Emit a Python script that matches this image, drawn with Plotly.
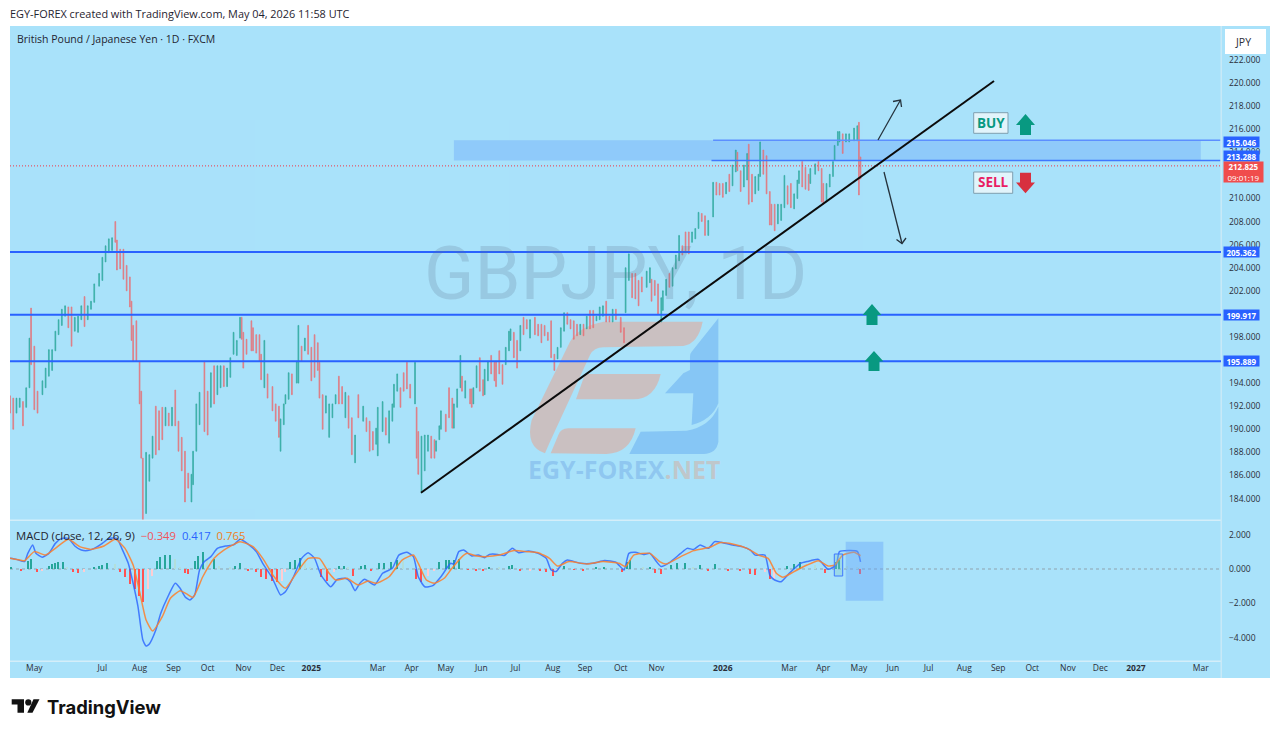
import plotly.graph_objects as go

# ---------- data ----------
bar_session = [0,2,4,6,8,10,12,13,15,17,20,22,24,26,28,30,32,34,36,38,40,42,44,46,48,50,52,55,57,59,61,63,65,66,68,70,72,74,75,76,78,80,81,82,84,86,88,90,92,94,96,98,100,102,104,106,108,110,112,113,115,117,120,122,124,126,128,130,132,134,136,138,140,142,143,144,146,149,150,152,154,155,157,159,162,164,166,167,169,170,172,174,177,178,180,182,184,186,188,190,191,193,195,197,199,201,203,205,207,209,211,213,215,218,220,222,224,226,227,230,232,234,236,237,239,241,243,245,247,250,251,252,254,256,258,
260,262,263,265,266,269,271,273,274,276,278,279,281,284,285,286,288,290,292,293,295,297,299,300,302,304,306,308,309,311,313,315,317,319,321,324,326,328,330,332,334,336,338,340,342,344,346,348,350,352,354,356,358,360,362,364,366,368,370,372,374,377,379,380,382,384,386,388,390,393,395,396,398,400,402,403,405,407,409,411,413,415,417,419,421,423,425,427,429,431,
434,436,438,440,442,444,446,448,449,451,453,455,456,458,460,462,463,465,467,469,470,472,474,476,478,480,482,484,486,487,489,491,493,494,497,499,501,502,504,506,508,509,511,512,514,516,518,521,523,524,525]
bar_high = [192.9,192.7,192.7,192.7,192.4,193.6,197.9,200.5,197.2,193.3,194.2,195.3,196.9,196.9,198.5,199.5,200.4,200.7,200.6,200.6,199.7,199.8,200.7,201.5,200.7,201.1,202.6,203.5,204.9,205.9,206.5,206.6,208.0,206.4,205.6,205.6,204.2,203.2,201.1,199.0,199.4,195.9,193.3,187.5,188.0,187.8,189.4,192.0,191.6,191.9,191.9,191.4,191.9,193.4,190.7,189.3,188.1,186.2,186.1,188.1,192.2,193.2,195.9,193.3,194.9,195.5,195.5,195.5,195.5,195.3,196.2,198.4,197.7,199.7,199.7,198.4,197.8,199.4,198.8,198.2,198.2,196.5,197.7,194.8,193.7,192.2,192.0,190.9,192.2,193.0,194.9,194.8,195.9,199.0,197.2,197.9,199.0,197.1,198.2,197.5,195.8,193.0,192.9,192.2,192.2,193.0,194.6,193.7,193.2,192.9,191.0,189.5,193.0,192.0,191.0,190.7,189.8,190.1,191.9,192.4,191.0,191.6,192.2,193.9,194.8,193.6,194.9,195.8,193.9,195.8,191.9,189.8,189.4,189.5,189.5,
189.4,189.1,189.0,190.3,191.6,191.3,193.6,192.7,192.2,193.5,196.4,194.6,194.2,193.5,193.5,193.6,195.5,196.2,194.3,195.2,195.9,196.4,195.8,195.9,196.8,195.6,197.1,198.5,198.7,198.4,197.7,199.0,199.7,199.5,199.5,199.7,199.1,199.1,199.0,198.4,199.4,196.5,197.1,198.8,200.1,200.1,199.5,199.4,199.1,199.1,199.1,199.8,200.3,200.3,199.8,200.6,200.7,201.1,199.8,200.4,200.4,199.7,198.8,204.0,205.2,203.5,203.5,202.9,203.2,203.7,204.0,203.0,202.9,202.6,201.4,202.0,203.0,203.5,204.0,205.1,206.8,205.9,207.1,207.1,207.1,207.4,208.8,208.7,208.5,208.1,
211.4,211.4,211.3,211.3,211.4,212.1,212.9,214.2,214.0,212.4,212.9,213.9,214.7,212.1,211.9,212.1,214.9,214.2,213.7,210.6,209.5,209.5,209.5,209.5,212.0,211.1,211.3,210.4,211.6,212.4,213.2,212.7,212.1,212.6,213.0,213.2,212.6,211.3,211.3,212.1,213.2,214.6,215.8,215.8,215.6,215.6,215.6,216.1,216.3,216.6,213.6]
bar_low = [191.4,190.0,191.4,191.9,190.3,191.9,193.6,195.6,191.7,191.4,193.0,193.6,194.6,195.1,196.8,198.2,199.0,199.8,198.8,197.2,198.5,198.4,199.5,198.9,199.5,200.4,201.0,202.4,202.9,204.5,205.3,205.5,206.2,203.8,203.9,203.0,202.0,200.6,197.7,195.9,195.9,192.2,187.5,182.0,182.7,185.5,187.5,187.8,188.2,189.1,190.3,190.3,190.3,190.3,188.1,186.4,183.7,184.9,183.7,185.2,188.1,190.4,189.8,189.5,191.9,192.2,193.0,193.6,193.7,193.7,194.5,196.5,196.4,197.9,197.8,195.3,196.5,196.8,196.8,196.6,195.9,194.3,193.6,192.7,191.6,190.7,189.3,188.1,190.4,192.2,192.6,193.0,194.0,194.0,195.9,196.8,196.5,194.2,194.5,195.1,192.7,190.0,191.4,189.3,191.0,192.2,192.2,192.2,191.0,190.1,187.8,187.1,191.0,190.7,189.8,188.1,188.2,188.7,187.7,189.8,189.5,188.8,190.7,191.9,193.3,191.9,193.3,193.5,192.7,192.2,187.5,186.1,184.5,186.4,188.1,
187.5,187.5,188.1,189.1,190.0,189.8,191.0,190.1,190.1,191.9,193.6,193.3,192.7,192.2,191.9,192.2,193.6,193.3,192.9,193.0,194.2,194.8,194.2,193.7,194.8,193.9,195.6,196.8,197.7,196.2,195.3,196.8,198.2,198.7,197.9,198.2,198.1,197.5,198.1,197.7,196.2,195.1,196.1,197.1,198.5,199.1,198.7,197.8,198.1,198.2,198.1,198.7,198.7,198.8,199.4,199.5,199.8,199.3,199.3,199.3,199.5,198.4,197.5,200.1,202.9,201.4,201.3,200.7,201.9,202.3,202.7,201.1,201.6,200.0,199.3,200.3,201.6,202.3,202.4,203.9,204.6,205.1,205.3,205.2,206.2,206.5,207.4,208.0,206.8,206.8,
208.4,210.3,210.3,210.1,210.4,210.6,211.1,212.3,212.4,210.6,211.0,211.6,209.5,209.7,210.4,210.7,211.9,212.1,210.4,207.7,207.7,207.2,207.8,208.1,209.2,209.5,209.2,209.1,210.0,211.3,211.0,210.8,210.7,211.3,212.1,212.4,209.7,209.5,209.7,211.0,211.9,213.3,214.6,214.9,213.9,214.9,214.9,215.0,215.0,210.3,211.7]
bar_rising = [0,0,1,1,0,1,1,0,0,0,1,1,1,1,1,1,1,1,0,0,1,1,1,0,1,1,1,1,1,1,1,1,0,0,0,0,0,0,0,0,0,0,0,0,1,1,1,0,0,0,1,0,1,0,0,0,0,0,1,1,1,1,0,0,1,0,1,1,0,1,1,1,1,1,0,0,0,0,0,0,0,0,1,0,0,0,0,1,1,1,1,0,1,1,0,1,0,0,0,0,0,0,1,1,1,1,0,0,1,0,0,1,0,1,0,0,0,1,1,1,0,1,1,1,1,0,0,0,0,1,0,0,1,1,1,
0,0,1,1,1,0,0,0,1,1,1,0,1,0,0,1,1,0,0,1,1,0,0,0,0,0,1,1,1,0,0,1,0,0,1,0,0,0,0,0,0,0,1,1,1,0,0,0,0,1,0,1,0,0,1,1,1,0,0,1,0,0,0,1,1,0,0,0,0,1,1,0,0,0,1,1,1,0,1,1,1,0,0,0,1,1,1,0,0,1,
1,0,0,0,1,0,1,1,0,0,1,1,0,0,1,1,1,0,0,0,0,0,1,1,1,0,0,1,1,1,0,0,0,1,1,0,0,0,1,1,1,1,1,1,0,1,1,1,1,0,0]

macd_session = [0,4,9,11,14,16,20,24,28,32,36,40,44,48,52,57,61,66,69,73,76,79,82,84,86,90,93,97,102,105,108,111,114,117,120,124,128,133,138,142,147,152,156,162,167,170,175,180,184,188,192,198,202,207,210,213,216,219,225,230,236,240,245,249,252,256,261,266,272,274,277,280,285,289,293,296,301,305,310,314,320,326,331,334,337,341,344,352,360,367,374,379,382,386,391,395,399,402,407,414,418,422,426,431,435,440,446,452,457,460,466,469,472,476,481,488,492,499,505,510,512,523,525]
macd_line = [.62,.56,.43,.91,1.40,.91,.68,.91,1.49,1.78,1.78,1.34,1.10,1.07,1.20,1.49,1.78,1.78,1.20,.33,-.83,-2.19,-4.13,-4.48,-4.36,-3.55,-2.58,-1.70,-.83,-1.12,-1.61,-1.80,-1.51,-.06,.43,.72,1.20,1.34,1.40,1.73,1.45,1.01,.33,-.54,-1.51,-1.32,-.45,.62,.95,.62,-.35,-1.03,-.60,-.54,-.74,-1.26,-.83,-.60,-.93,-.25,.04,.81,.97,.72,-.45,-1.03,-.97,-.45,.33,.29,1.01,1.10,.76,.81,.66,.85,.85,.78,1.20,.95,1.05,.91,.62,-.06,-.15,.33,.52,.33,.33,.49,.39,-.06,.91,.97,.85,.91,.43,.14,.37,.91,1.20,1.14,1.40,1.20,1.59,1.53,1.40,1.30,1.10,.81,.81,-.35,-.64,-.74,-.25,.33,.43,.56,-.02,.23,1.01,1.03,.42]
signal_session = [0,6,9,15,22,28,36,43,50,58,65,71,76,80,84,88,94,99,105,109,113,119,126,132,142,150,156,163,170,176,184,191,197,201,208,215,221,226,234,242,249,252,257,262,268,272,278,282,288,294,302,311,319,326,333,338,345,356,366,376,380,385,395,401,405,414,422,432,438,446,455,462,468,473,477,484,492,499,505,509,514,521,525]
signal_line = [.62,.52,.48,1.01,.81,1.20,1.73,1.30,1.14,1.34,1.73,1.20,.23,-1.32,-2.97,-3.60,-2.77,-1.70,-1.26,-1.45,-1.65,-.45,.62,1.10,1.59,1.30,.62,-.45,-1.12,-.35,.62,.62,-.25,-.64,-.54,-.93,-.70,-.83,-.45,.52,.81,.33,-.64,-.83,-.54,-.06,.62,.91,.76,.72,.81,1.07,1.01,.95,.62,.17,.43,.29,.43,.33,.14,.81,.91,.43,.29,.72,1.07,1.26,1.53,1.45,1.20,.81,.62,-.25,-.48,-.15,.23,.48,.17,.23,.81,.97,.77]
hist_session = [1,7,11,13,17,20,24,26,28,30,33,35,39,42,46,52,55,57,60,65,68,71,74,77,80,82,85,88,91,93,96,99,102,105,108,110,114,116,119,122,126,129,136,139,142,147,152,155,158,162,165,168,170,173,176,179,182,185,192,196,200,203,206,209,212,217,219,223,228,231,235,239,243,251,254,258,262,265,269,271,274,277,283,288,292,296,302,308,310,315,321,327,331,335,338,342,348,354,362,367,378,381,383,391,395,398,402,408,412,417,422,426,431,435,443,451,457,460,466,469,472,480,484,488,497,503,510,512,517,523,525]
hist_values = [.10,-.06,.48,.58,-.15,-.12,.19,.29,.35,.39,.43,.10,-.19,-.23,-.15,.10,.15,.23,.35,.29,-.15,-.48,-.87,-1.16,-1.55,-1.94,-1.16,-.39,.48,.68,.81,.81,.58,.06,-.23,-.29,.48,.78,.97,.58,.58,.19,.10,.19,.35,-.10,-.19,-.48,-.58,-.68,-.78,-.68,-.19,.39,.54,.62,.58,.10,-.48,-.68,-.19,.15,.19,.10,-.39,.19,.23,-.10,.35,.35,.39,.54,.48,-.58,-.78,-.39,-.10,.39,.54,.54,.54,.58,-.04,-.06,-.08,.10,.06,.19,.23,-.06,-.06,-.10,-.15,-.43,-.10,.19,-.02,-.06,.06,.10,-.19,.39,.54,.06,.10,-.23,-.29,.23,.35,.35,.10,.23,-.06,.29,-.06,-.10,-.29,-.35,-.15,-.58,-.58,.15,.29,.43,.23,-.23,.39,.54,.15,.06,-.29]

level_prices = [205.362, 199.917, 195.889]
zone_top, zone_bottom, last_price = 215.046, 213.288, 212.825
month_sessions = [15,57,80,101,122,144,165,186,227,248,269,291,312,335,355,377,399,440,481,502,524,545,567,589,610,631,653,673,695,735]
month_labels = ["May","Jul","Aug","Sep","Oct","Nov","Dec","<b>2025</b>","Mar","Apr","May","Jun","Jul","Aug","Sep","Oct","Nov","<b>2026</b>","Mar","Apr","May","Jun","Jul","Aug","Sep","Oct","Nov","Dec","<b>2027</b>","Mar"]
price_ticks = [184,186,188,190,192,194,198,202,204,206,208,210,214,216,218,220,222]
macd_ticks = [2, 0, -2, -4]

# ---------- page geometry ----------
W, H = 1280, 735
BG = "#a9e2fa"
FONT = "Open Sans, Roboto, sans-serif"
INK = "#2a2e39"
def PX(x): return x / W
def PY(y): return 1 - y / H
def path(pts, close=True):
    s = "M" + " L".join(f"{PX(x):.5f} {PY(y):.5f}" for x, y in pts)
    return s + (" Z" if close else "")
def pshape(pts, fill=None, line=None, lw=0, close=True, layer="above"):
    return dict(type="path", xref="paper", yref="paper", path=path(pts, close), layer=layer,
                fillcolor=fill if fill else "rgba(0,0,0,0)", line=dict(color=line if line else "rgba(0,0,0,0)", width=lw))
def prect(x0, y0, x1, y1, fill, line=None, lw=0, layer="below"):
    return dict(type="rect", xref="paper", yref="paper", x0=PX(x0), x1=PX(x1), y0=PY(y0), y1=PY(y1), layer=layer,
                fillcolor=fill, line=dict(color=line if line else "rgba(0,0,0,0)", width=lw))
def ptext(x, y, text, size=10, color=INK, anchor="left", family=FONT, **kw):
    return dict(xref="paper", yref="paper", x=PX(x), y=PY(y), text=text, showarrow=False, xanchor=anchor, yanchor="middle",
                font=dict(size=size, color=color, family=family), **kw)
def arrow_up(cx, top, bottom, color):
    hw, sw, head = 9.5, 5.5, (bottom - top) * .52
    return pshape([(cx, top), (cx + hw, top + head), (cx + sw, top + head), (cx + sw, bottom), (cx - sw, bottom), (cx - sw, top + head), (cx - hw, top + head)], fill=color)
def arrow_down(cx, top, bottom, color):
    hw, sw, head = 9.5, 5.5, (bottom - top) * .52
    return pshape([(cx, bottom), (cx + hw, bottom - head), (cx + sw, bottom - head), (cx + sw, top), (cx - sw, top), (cx - sw, bottom - head), (cx - hw, bottom - head)], fill=color)
def logo_path(cmds, fill):
    """Logo outline in crop coordinates: (x, y) is a line, (cx, cy, x, y) a quadratic curve."""
    def p(x, y): return f"{PX(520 + x / 3):.5f} {PY(310 + y / 3):.5f}"
    s = "M" + p(*cmds[0])
    for c in cmds[1:]:
        s += " L" + p(*c) if len(c) == 2 else " Q" + p(c[0], c[1]) + " " + p(c[2], c[3])
    return dict(type="path", xref="paper", yref="paper", path=s + " Z", layer="below", fillcolor=fill, line=dict(color="rgba(0,0,0,0)", width=0))

# ---------- traces ----------
opens = [l if r else h for h, l, r in zip(bar_high, bar_low, bar_rising)]
closes = [h if r else l for h, l, r in zip(bar_high, bar_low, bar_rising)]
hist_colors = []
prev = 0
for v in hist_values:
    if v >= 0:
        hist_colors.append("#26a69a" if v >= prev else "#b2dfdb")
    else:
        hist_colors.append("#ff5252" if v < prev else "#ffcdd2")
    prev = v

fig = go.Figure()
fig.add_trace(go.Candlestick(x=bar_session, open=opens, high=bar_high, low=bar_low, close=closes, xaxis="x", yaxis="y",
    whiskerwidth=0, showlegend=False, hoverinfo="skip", opacity=.9,
    increasing=dict(line=dict(color="#2ba89c", width=.7), fillcolor="#2ba89c"),
    decreasing=dict(line=dict(color="#e86f74", width=.7), fillcolor="#e86f74")))
fig.add_trace(go.Bar(x=hist_session, y=hist_values, marker=dict(color=hist_colors, line_width=0), width=.85, xaxis="x2", yaxis="y2", showlegend=False, hoverinfo="skip"))
fig.add_trace(go.Scatter(x=macd_session, y=macd_line, mode="lines", line=dict(color="#2962ff", width=1.5, shape="spline", smoothing=.5), opacity=.8, xaxis="x2", yaxis="y2", showlegend=False, hoverinfo="skip"))
fig.add_trace(go.Scatter(x=signal_session, y=signal_line, mode="lines", line=dict(color="#ff7f2a", width=1.5, shape="spline", smoothing=.5), opacity=.85, xaxis="x2", yaxis="y2", showlegend=False, hoverinfo="skip"))

# ---------- drawings ----------
shapes = [prect(10, 26, 1270, 678, BG)]
# EF logo watermark
tan = "rgba(225,170,155,.60)"
blue = "rgba(100,170,240,.50)"
shapes += [
    logo_path([(548,35),(250,35),(175,50,150,95),(35,330),(15,410,75,430),(90,395),(210,135),(222,112,250,112),(490,108),(535,100,548,35)], tan),
    logo_path([(168,268),(195,192),(422,192),(405,268,340,268)], tan),
    logo_path([(92,430),(115,375),(122,355,145,355),(347,355),(330,430,260,432)], tan),
    logo_path([(595,25),(515,125),(510,130,510,140),(510,180),(490,190),(435,250),(520,250),(515,345),(575,330,595,280)], blue),
    logo_path([(595,290),(595,395),(590,430,550,432),(328,432),(362,365),(500,362),(570,350,595,290)], blue),
]
# separators
shapes += [prect(10, 519.5, 1221, 521, "#d4eef9"), prect(10, 660.5, 1221, 662, "#d4eef9"), prect(1220.5, 26, 1222, 678, "#c8e9f7")]
# support / resistance
shapes.append(dict(type="rect", xref="x", yref="y", x0=274, x1=735, y0=zone_bottom, y1=zone_top, fillcolor="rgba(110,170,250,.44)", line_width=0, layer="below"))
for p in level_prices:
    shapes.append(dict(type="line", xref="paper", yref="y", x0=PX(10), x1=PX(1221), y0=p, y1=p, line=dict(color="#2962ff", width=2)))
shapes.append(dict(type="line", xref="x", yref="y", x0=434, x1=747, y0=zone_top, y1=zone_top, line=dict(color="#5c8fff", width=1.5)))
shapes.append(dict(type="line", xref="x", yref="y", x0=433, x1=747, y0=zone_bottom, y1=zone_bottom, line=dict(color="#3f78ff", width=1.5)))
shapes.append(dict(type="line", xref="paper", yref="y", x0=PX(10), x1=PX(1221), y0=last_price, y1=last_price, line=dict(color="#f23645", width=1, dash="1px,2px")))
shapes.append(dict(type="line", xref="x", yref="y", x0=253.7, x1=607.4, y0=184.5, y1=220.18, line=dict(color="#0b0b0b", width=2)))
# hand arrows
ac = "#25323c"
shapes += [
    pshape([(878, 140), (900.5, 100)], line=ac, lw=1.3, close=False),
    pshape([(893, 101.5), (900.5, 100), (901.5, 107)], line=ac, lw=1.3, close=False),
    pshape([(884, 172), (902, 243.5)], line=ac, lw=1.3, close=False),
    pshape([(896.5, 239.5), (902, 243.5), (906, 238)], line=ac, lw=1.3, close=False),
]
# BUY / SELL
shapes += [
    prect(973.7, 112.7, 1008, 133.3, "rgba(232,246,251,.9)", "#7f9fb0", 1, "above"),
    prect(973.7, 172, 1012.7, 193.3, "rgba(232,246,251,.9)", "#7f9fb0", 1, "above"),
    arrow_up(1025.5, 114, 135, "#089981"),
    arrow_down(1025.5, 172.7, 193.3, "#d7303f"),
    arrow_up(872, 304, 325, "#089981"),
    arrow_up(874, 351, 371, "#089981"),
]
# MACD pane
shapes.append(dict(type="line", xref="paper", yref="y2", x0=PX(10), x1=PX(1221), y0=0, y1=0, line=dict(color="#8fa3ae", width=1, dash="3px,3px"), layer="below"))
shapes += [prect(845.7, 541.7, 883.3, 600.7, "rgba(100,165,250,.42)", layer="above"),
           prect(834.3, 554, 842.7, 576, "rgba(130,200,200,.35)", "#3f78ff", 1, "above")]
# JPY button
shapes.append(prect(1225, 29, 1266, 54, "#ffffff", layer="above"))
# TradingView mark
shapes += [
    pshape([(11.7, 699.3), (24, 699.3), (24, 712.7), (17.5, 712.7), (17.5, 704.5), (11.7, 704.5)], fill="#111111"),
    pshape([(27.3, 712.7), (33.5, 699.3), (39.5, 699.3), (32.5, 712.7)], fill="#111111"),
    dict(type="circle", xref="paper", yref="paper", x0=PX(25.2), x1=PX(31.4), y0=PY(699.3), y1=PY(705.5), fillcolor="#111111", line_width=0),
]

# ---------- text ----------
ann = [
    ptext(8, 13.5, "EGY-FOREX created with TradingView.com, May 04, 2026 11:58 UTC", 10.9, "#1f2430"),
    ptext(15, 39, "British Pound / Japanese Yen · 1D · FXCM", 10.5, "#1f2430"),
    ptext(615, 273, "GBPJPY, 1D", 74, "rgba(90,115,140,.22)", "center", "Roboto, sans-serif"),
    ptext(526, 468.5, "<b><span style='color:rgba(100,155,225,.38)'>EGY-FOREX</span><span style='color:rgba(225,160,135,.42)'>.NET</span></b>", 25, anchor="left"),
    ptext(14, 535, "MACD (close, 12, 26, 9) &nbsp;<span style='color:#f2545b'>−0.349</span> &nbsp;<span style='color:#2962ff'>0.417</span> &nbsp;<span style='color:#ef7f1a'>0.765</span>", 11.3, "#1f2430"),
    ptext(1243, 42, "JPY", 10.5, "#2a2e39", "center"),
    ptext(991, 123.5, "<b>BUY</b>", 13.5, "#089981", "center"),
    ptext(993, 182.5, "<b>SELL</b>", 13.5, "#e91e63", "center"),
    ptext(45, 706.5, "<b>TradingView</b>", 18.4, "#111111", family="Inter, Roboto, sans-serif"),
]
for p in level_prices:
    ann.append(dict(xref="paper", yref="y", x=PX(1223), y=p, xanchor="left", yanchor="middle", showarrow=False, text=f"<b>{p:.3f}</b>",
                    width=35, height=10, align="center", bgcolor="#2962ff", borderpad=0, font=dict(size=8, color="#ffffff", family=FONT)))
for p, ypx in [(zone_top, 141.5), (zone_bottom, 156)]:
    ann.append(dict(xref="paper", yref="paper", x=PX(1223), y=PY(ypx), xanchor="left", yanchor="middle", showarrow=False, text=f"<b>{p:.3f}</b>",
                    width=35, height=10, align="center", bgcolor="#2962ff", borderpad=0, font=dict(size=8, color="#ffffff", family=FONT)))
ann.append(dict(xref="paper", yref="paper", x=PX(1223), y=PY(171.5), xanchor="left", yanchor="middle", showarrow=False,
                text=f"<b>{last_price:.3f}</b><br>09:01:19", width=39, height=20, align="center", bgcolor="#f04c4c", borderpad=0,
                font=dict(size=8, color="#ffffff", family=FONT)))

axis_font = dict(size=8.5, color="#2a2e39", family=FONT)
fig.update_layout(
    width=W, height=H, margin=dict(l=0, r=0, t=0, b=0), autosize=False,
    paper_bgcolor="#ffffff", plot_bgcolor="rgba(0,0,0,0)", bargap=0, showlegend=False,
    xaxis=dict(domain=[PX(10), PX(1221)], range=[0, 747.5], anchor="y", showticklabels=False, showgrid=False, zeroline=False, ticks="", rangeslider=dict(visible=False), fixedrange=True),
    yaxis=dict(domain=[PY(519.5), PY(26)], range=[222 - 459.5 / 11.54, 222 + 34 / 11.54], side="right", anchor="x", tickmode="array", tickvals=price_ticks,
               ticktext=[f"{t:.3f}" for t in price_ticks], tickfont=axis_font, showgrid=False, zeroline=False, ticks="", ticklabelstandoff=7, fixedrange=True),
    xaxis2=dict(domain=[PX(10), PX(1221)], range=[0, 747.5], anchor="y2", tickmode="array", tickvals=month_sessions, ticktext=month_labels, tickangle=0,
                tickfont=axis_font, showgrid=False, zeroline=False, ticks="", fixedrange=True),
    yaxis2=dict(domain=[PY(661), PY(520)], range=[(569 - 661) / 17.2, (569 - 520) / 17.2], side="right", anchor="x2", tickmode="array", tickvals=macd_ticks,
                ticktext=[f"{t:.3f}".replace("-", "−") for t in macd_ticks], tickfont=axis_font, showgrid=False, zeroline=False, ticks="", ticklabelstandoff=7, fixedrange=True),
    shapes=shapes, annotations=ann,
)
fig.write_html("out.html", config=dict(displayModeBar=False), post_script="document.body.style.margin='0';document.body.style.overflow='hidden';")
